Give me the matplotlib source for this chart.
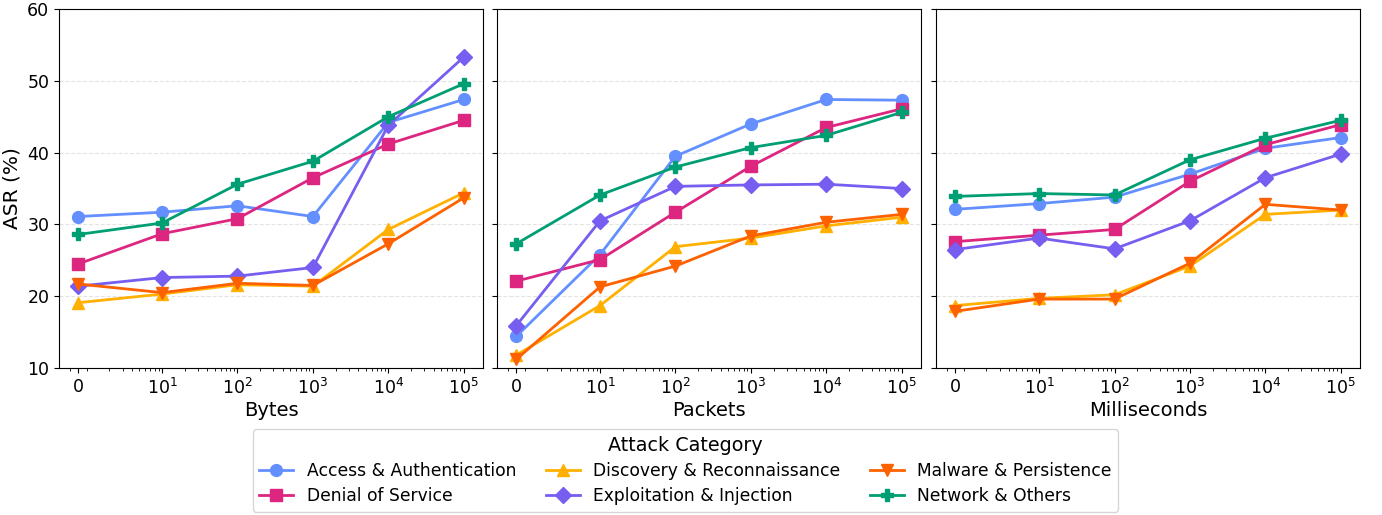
import numpy as np
import matplotlib.pyplot as plt
import matplotlib.ticker as mticker

x = [0, 10, 100, 1000, 10000, 100000]
xtick_labels = ["0", "$10^1$", "$10^2$", "$10^3$", "$10^4$", "$10^5$"]

categories = ["Access & Authentication", "Denial of Service", "Discovery & Reconnaissance",
              "Exploitation & Injection", "Malware & Persistence", "Network & Others"]
colors = ["#648FFF", "#DC267F", "#FFB000", "#785EF0", "#FE6100", "#009E73"]
markers = ["o", "s", "^", "D", "v", "P"]

units = ["Bytes", "Packets", "Milliseconds"]

# ASR (%) per category, one list per unit
bytes_asr = [
    [31.1, 31.7, 32.6, 31.1, 44.2, 47.4],
    [24.5, 28.7, 30.8, 36.5, 41.2, 44.5],
    [19.1, 20.3, 21.6, 21.4, 29.3, 34.4],
    [21.4, 22.6, 22.8, 24.0, 43.8, 53.3],
    [21.7, 20.5, 21.8, 21.5, 27.3, 33.7],
    [28.6, 30.2, 35.6, 38.8, 45.0, 49.6],
]
packets_asr = [
    [14.4, 25.8, 39.5, 44.0, 47.4, 47.3],
    [22.1, 25.1, 31.7, 38.1, 43.5, 46.1],
    [11.8, 18.7, 26.9, 28.1, 29.8, 31.0],
    [15.9, 30.5, 35.3, 35.5, 35.6, 35.0],
    [11.2, 21.3, 24.2, 28.4, 30.3, 31.4],
    [27.3, 34.1, 38.0, 40.7, 42.4, 45.6],
]
ms_asr = [
    [32.1, 32.9, 33.8, 37.0, 40.6, 42.1],
    [27.6, 28.5, 29.3, 36.0, 41.1, 43.9],
    [18.7, 19.7, 20.2, 24.2, 31.4, 32.0],
    [26.5, 28.1, 26.6, 30.5, 36.5, 39.8],
    [17.9, 19.6, 19.6, 24.6, 32.8, 32.0],
    [33.9, 34.3, 34.1, 39.0, 42.0, 44.5],
]
all_asr = [bytes_asr, packets_asr, ms_asr]

fig = plt.figure(figsize=(13.82, 5.15), dpi=100)
lefts = [0.0427, 0.3596, 0.6773]
axes = []
for i in range(3):
    if i == 0:
        ax = fig.add_axes([lefts[i], 0.2854, 0.3068, 0.6971])
    else:
        ax = fig.add_axes([lefts[i], 0.2854, 0.3068, 0.6971], sharey=axes[0])
    axes.append(ax)

for i, ax in enumerate(axes):
    for j in range(len(categories)):
        ax.plot(x, all_asr[i][j], marker=markers[j], color=colors[j], linewidth=2,
                markersize=8.5, label=categories[j])
    ax.set_xscale("symlog", linthresh=1, linscale=0.1)
    ax.set_xticks(x)
    ax.set_xticklabels(xtick_labels)
    ax.xaxis.set_minor_locator(mticker.SymmetricalLogLocator(base=10, linthresh=1,
                                                             subs=np.arange(1, 10)))
    ax.set_xlabel(units[i], fontsize=14, labelpad=2)
    ax.set_ylim(10, 60)
    ax.set_yticks([10, 20, 30, 40, 50, 60])
    ax.grid(axis="y", linestyle="--", color="#dddddd", linewidth=0.8, alpha=0.8)
    ax.tick_params(labelsize=12.5)
    if i > 0:
        ax.tick_params(labelleft=False)

axes[0].set_ylabel("ASR (%)", fontsize=14.5)

handles, labels = axes[0].get_legend_handles_labels()
leg = fig.legend(handles, labels, loc="upper center", bbox_to_anchor=(0.496, 0.183), ncol=3,
                 title="Attack Category", fontsize=12.3, title_fontsize=13.8, frameon=True,
                 labelspacing=0.42, borderpad=0.38, columnspacing=1.7)

fig.savefig("out.png", dpi=100)
